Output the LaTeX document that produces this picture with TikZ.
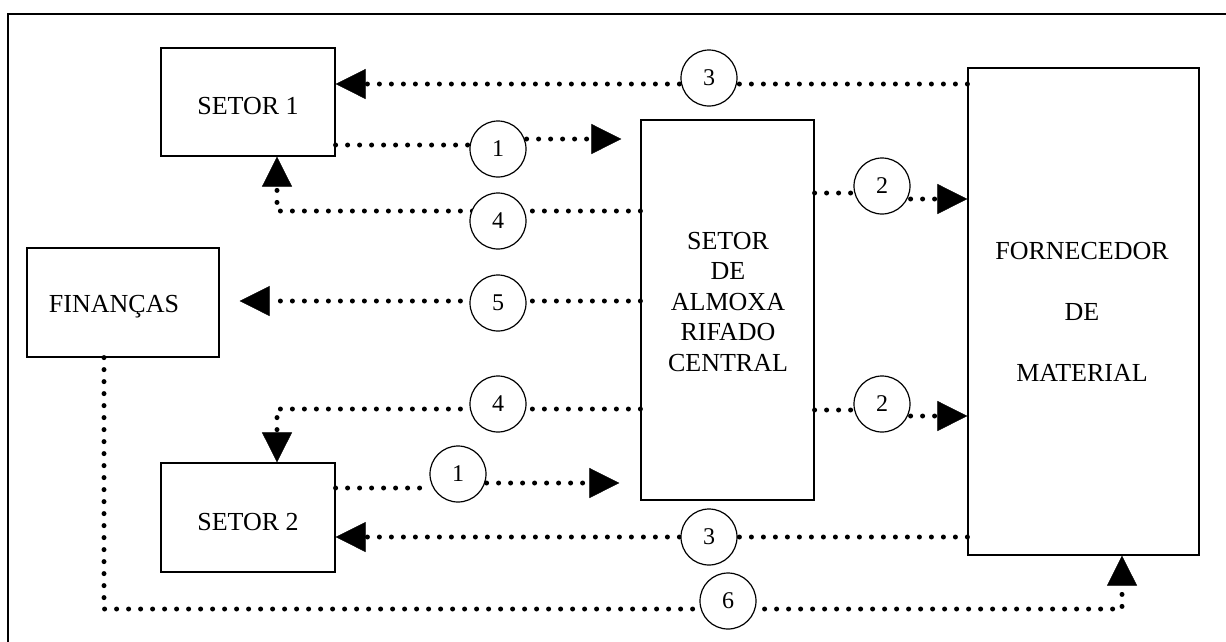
\documentclass[tikz,border=0pt]{standalone}
\usepackage{fontspec}
\setmainfont{Liberation Serif}
\usetikzlibrary{arrows.meta}
\pgfdeclarelayer{bg}
\pgfsetlayers{bg,main}
\tikzset{
  box/.style={draw, line width=1.2pt, inner sep=0pt, font=\fontsize{26}{30}\selectfont},
  num/.style={draw, circle, fill=white, line width=1.2pt, minimum size=56pt, inner sep=0pt, font=\fontsize{24}{24}\selectfont},
  dl/.style={line width=5pt, dash pattern=on 0pt off 12pt, line cap=round},
  tri/.tip={Triangle[length=30pt,width=30pt,line width=0.5pt]}
}
\begin{document}
\begin{tikzpicture}[x=1pt,y=-1pt]
\useasboundingbox (0,0) rectangle (1226,641);
\clip (0,0) rectangle (1226,641);
\draw[line width=1.3pt] (8,14) rectangle (1240,660);

% boxes
\node[box, minimum width=174pt, minimum height=108pt] (s1) at (248,102) {};
\node[font=\fontsize{26}{30}\selectfont] at (248,106) {SETOR 1};
\node[box, minimum width=192pt, minimum height=109pt] (fin) at (123,302.5) {};
\node[font=\fontsize{26}{30}\selectfont] at (114,307) {FINANÇAS};
\node[box, minimum width=174pt, minimum height=109pt] (s2) at (248,517.5) {};
\node[font=\fontsize{26}{30}\selectfont] at (248,522) {SETOR 2};
\node[box, minimum width=173pt, minimum height=380pt] (alm) at (727.5,310) {};
\node[align=center, font=\fontsize{26}{30.5}\selectfont] at (728,302) {SETOR\\DE\\ALMOXA\\RIFADO\\CENTRAL};
\node[box, minimum width=231pt, minimum height=487pt] (forn) at (1083.5,311.5) {};
\node[align=center, font=\fontsize{26}{61}\selectfont] at (1082,312) {FORNECEDOR\\DE\\MATERIAL};

% number circles
\node[num] (n3a) at (709,78) {\raisebox{-4pt}{3}};
\node[num] (n1a) at (498,149) {1};
\node[num] (n4a) at (498,221) {\raisebox{-3pt}{4}};
\node[num] (n2a) at (882,186) {2};
\node[num] (n5) at (498,303) {\raisebox{-3pt}{5}};
\node[num] (n4b) at (498,404) {4};
\node[num] (n2b) at (882,404) {2};
\node[num] (n1b) at (458,474) {1};
\node[num] (n3b) at (709,537) {\raisebox{-4pt}{3}};
\node[num] (n6) at (728,601) {\raisebox{-5pt}{6}};

% connectors
\coordinate (k4a) at (277,211);
\coordinate (k4b) at (277,409);
\coordinate (k6a) at (104,609);
\coordinate (k6b) at (1122,609);
\begin{pgfonlayer}{bg}
\draw[dl,-tri] (forn.west |- 0,84) -- (s1.east |- 0,84);
\draw[dl] (s1.east |- 0,145) -- (n1a.west |- 0,145);
\draw[dl,-tri] (n1a.east |- 0,139) -- ([xshift=-19pt]alm.west |- 0,139);
\draw[dl,-tri] (alm.west |- k4a) -- (k4a) -- (s1.south -| k4a);
\draw[dl] (alm.east |- 0,193) -- (n2a.west |- 0,193);
\draw[dl,-tri] (n2a.east |- 0,199) -- (forn.west |- 0,199);
\draw[dl,-tri] (alm.west |- 0,301) -- ([xshift=20pt]fin.east |- 0,301);
\draw[dl,-tri] (alm.west |- k4b) -- (k4b) -- (s2.north -| k4b);
\draw[dl] (alm.east |- 0,410) -- (n2b.west |- 0,410);
\draw[dl,-tri] (n2b.east |- 0,416) -- (forn.west |- 0,416);
\draw[dl] (s2.east |- 0,488) -- (n1b.west |- 0,488);
\draw[dl,-tri] (n1b.east |- 0,483) -- ([xshift=-21pt]alm.west |- 0,483);
\draw[dl,-tri] (forn.west |- 0,537) -- (s2.east |- 0,537);
\draw[dl,-tri] (fin.south -| k6a) -- (k6a) -- (k6b) -- (forn.south -| k6b);
\end{pgfonlayer}
\end{tikzpicture}
\end{document}
